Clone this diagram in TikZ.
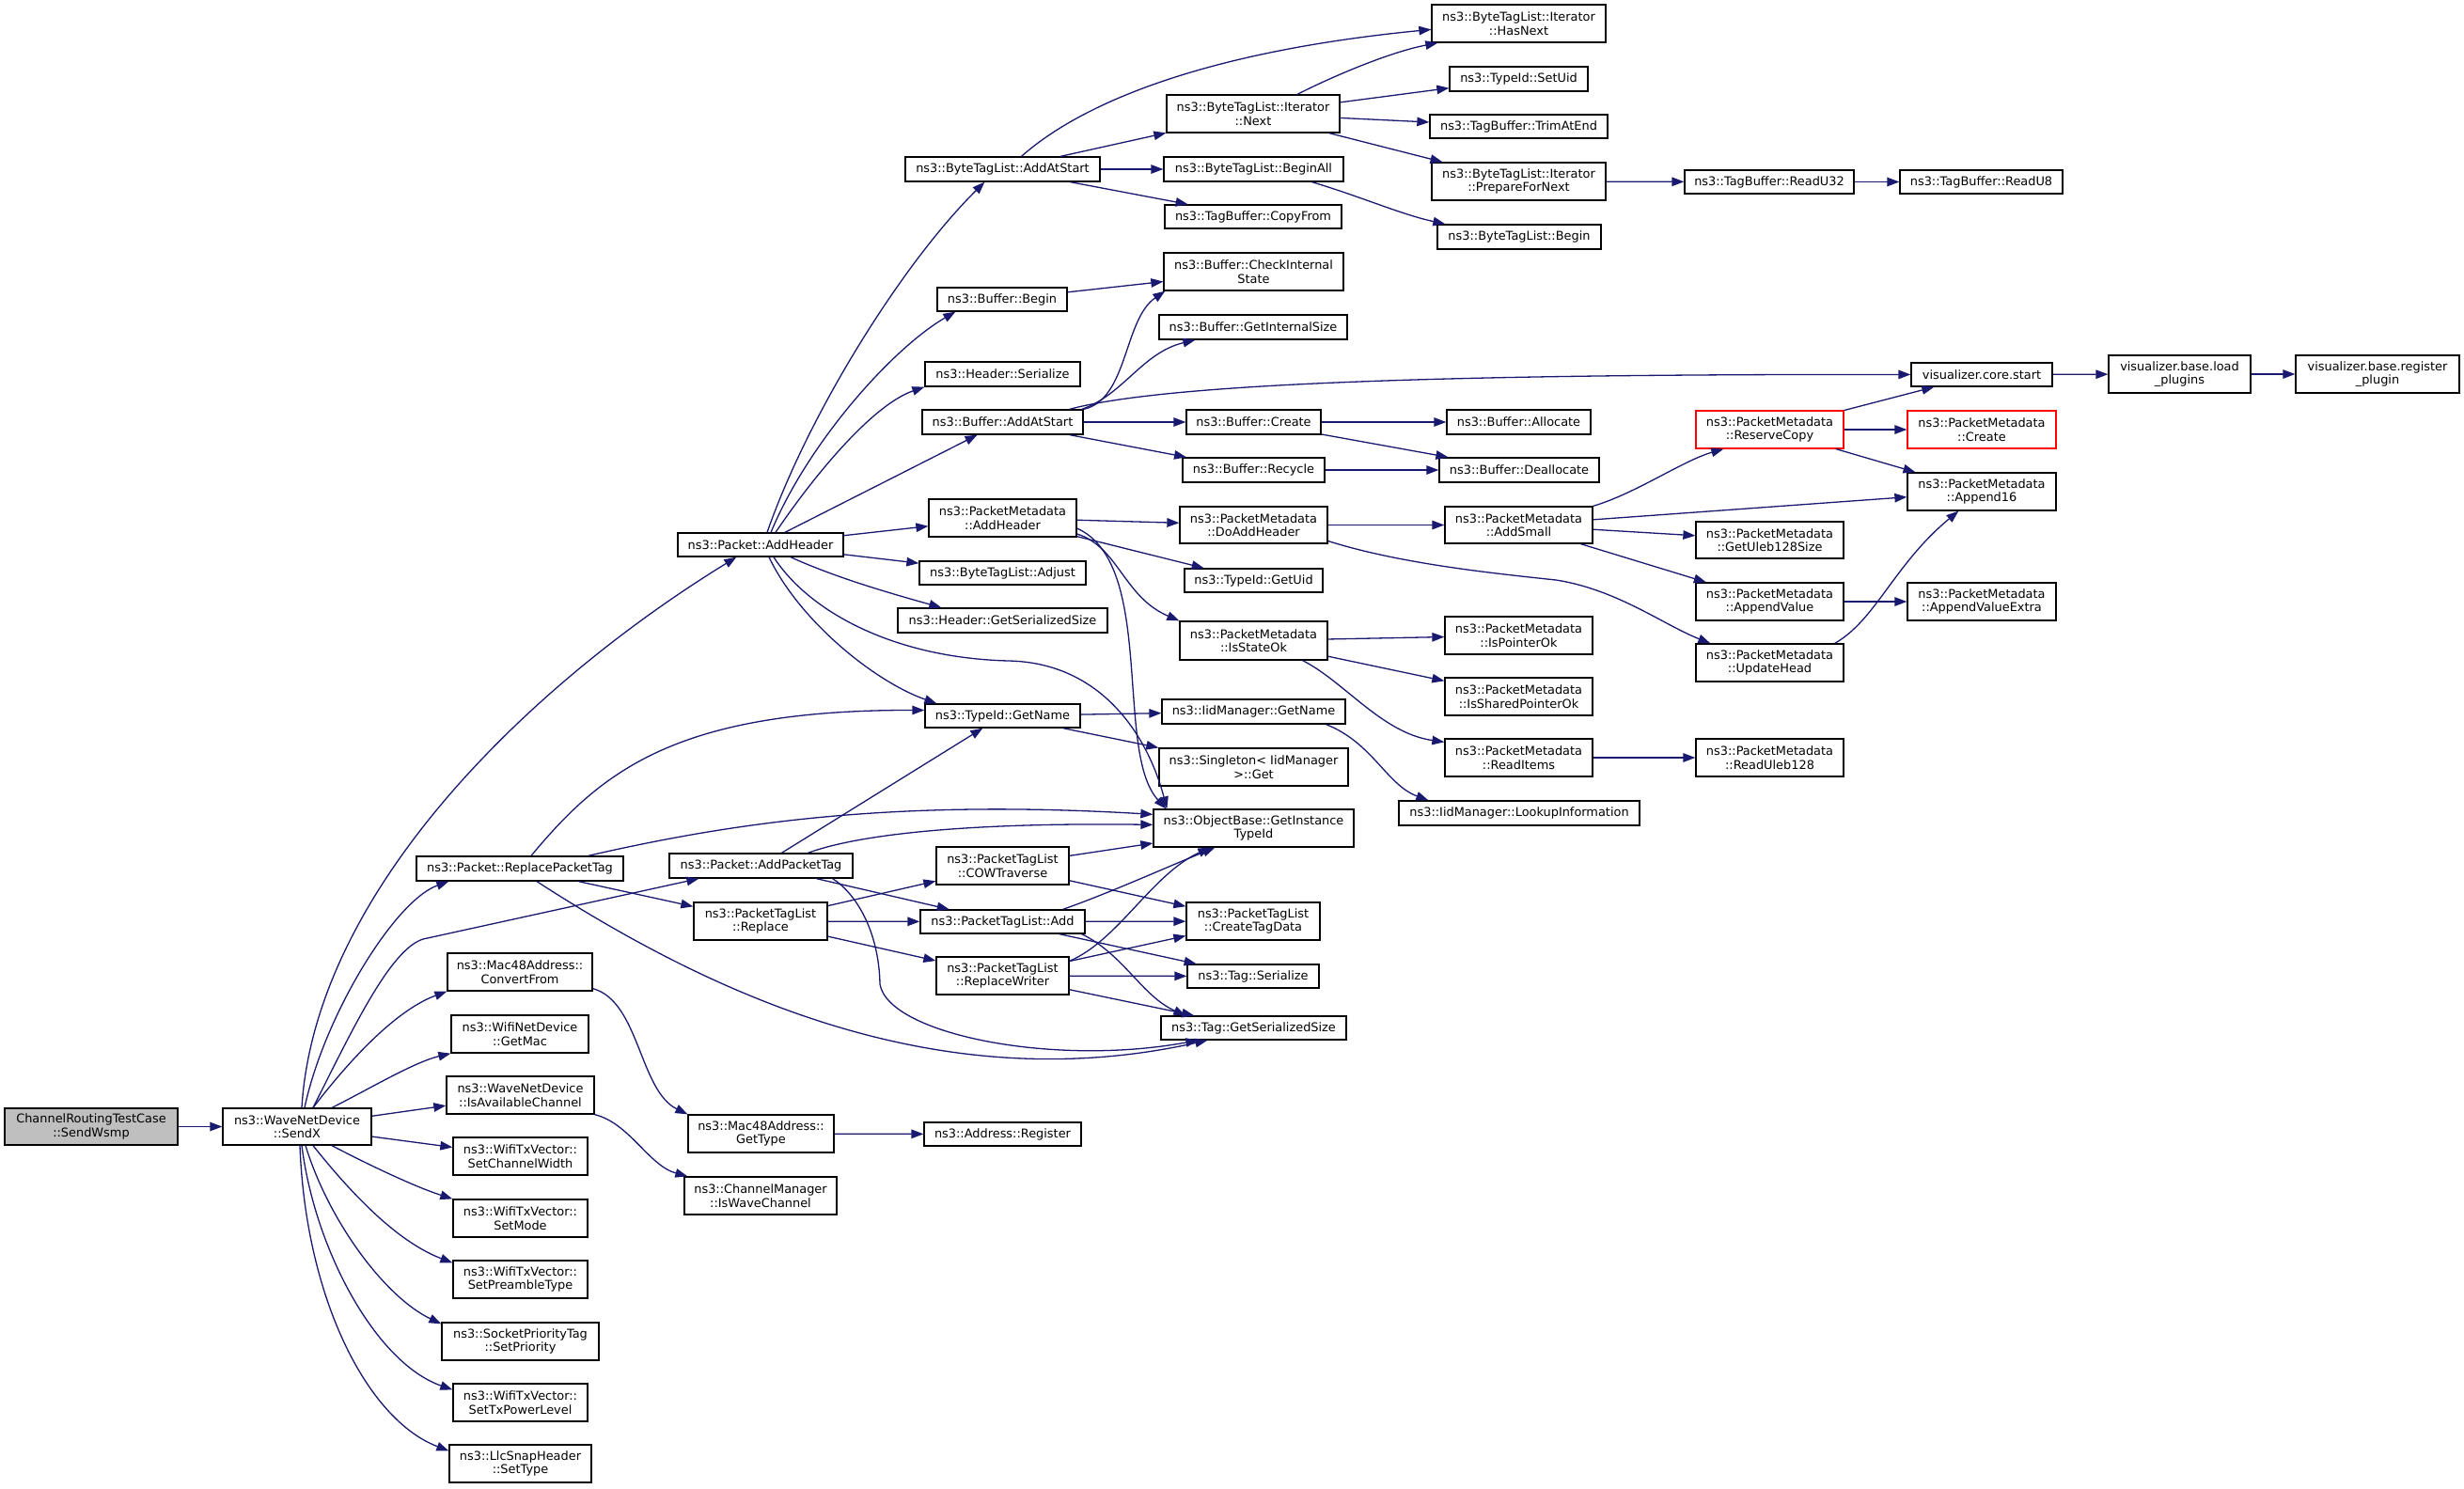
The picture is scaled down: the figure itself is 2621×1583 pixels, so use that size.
\documentclass[tikz,border=0pt]{standalone}
\usepackage{fontspec}
\setmainfont{DejaVu Sans}
\usetikzlibrary{arrows.meta}
\definecolor{edgeblue}{HTML}{191970}
\definecolor{nodegray}{HTML}{BFBFBF}
\definecolor{nodered}{HTML}{FF0000}
\tikzset{
 box/.style={draw=black, line width=1.3pt, fill=white, inner sep=0pt, align=center, font=\fontsize{12.9}{14.5}\selectfont, text=black},
 redbox/.style={draw=nodered},
 graybox/.style={fill=nodegray},
 arr/.style={draw=edgeblue, line width=1.3pt, -{Triangle[length=13pt,width=9.5pt]}},
}
\newcommand\bx[7][]{\node[box,#1,minimum width={(#5-#3)*1pt},minimum height={(#6-#4)*1pt}] (#2) at ({(#3+#5)/2},{(#4+#6)/2}) {#7};}
\begin{document}
\begin{tikzpicture}[x=1pt,y=-1pt]
\useasboundingbox (0,0) rectangle (2621,1583);
\fill[white] (0,0) rectangle (2621,1583);
% nodes
\bx[graybox]{sendwsmp}{5}{1179}{189}{1218}{ChannelRoutingTestCase\\::SendWsmp}
\bx{sendx}{237}{1179}{395}{1218}{ns3::WaveNetDevice\\::SendX}
\bx{replacetag}{443}{911}{663}{937}{ns3::Packet::ReplacePacketTag}
\bx{convertfrom}{476}{1014}{630}{1054}{ns3::Mac48Address::\\ConvertFrom}
\bx{getmac}{480}{1080}{626}{1120}{ns3::WifiNetDevice\\::GetMac}
\bx{isavail}{475}{1145}{632}{1185}{ns3::WaveNetDevice\\::IsAvailableChannel}
\bx{setchw}{482}{1210}{625}{1250}{ns3::WifiTxVector::\\SetChannelWidth}
\bx{setmode}{482}{1276}{625}{1316}{ns3::WifiTxVector::\\SetMode}
\bx{setpre}{482}{1341}{625}{1381}{ns3::WifiTxVector::\\SetPreambleType}
\bx{setprio}{470}{1407}{637}{1447}{ns3::SocketPriorityTag\\::SetPriority}
\bx{settx}{482}{1472}{625}{1512}{ns3::WifiTxVector::\\SetTxPowerLevel}
\bx{settype}{478}{1537}{629}{1577}{ns3::LlcSnapHeader\\::SetType}
\bx{addheader}{721}{567}{897}{592}{ns3::Packet::AddHeader}
\bx{addpackettag}{712}{908}{907}{934}{ns3::Packet::AddPacketTag}
\bx{bt_addatstart}{963}{167}{1170}{193}{ns3::ByteTagList::AddAtStart}
\bx{buf_begin}{997}{306}{1135}{331}{ns3::Buffer::Begin}
\bx{hdr_ser}{984}{385}{1149}{411}{ns3::Header::Serialize}
\bx{buf_addatstart}{981}{436}{1152}{462}{ns3::Buffer::AddAtStart}
\bx{pm_addheader}{988}{531}{1145}{571}{ns3::PacketMetadata\\::AddHeader}
\bx{bt_adjust}{978}{597}{1155}{622}{ns3::ByteTagList::Adjust}
\bx{hdr_gss}{955}{647}{1178}{673}{ns3::Header::GetSerializedSize}
\bx{tid_getname}{984}{749}{1149}{774}{ns3::TypeId::GetName}
\bx{ptl_cow}{996}{901}{1137}{941}{ns3::PacketTagList\\::COWTraverse}
\bx{ptl_replace}{738}{960}{880}{1000}{ns3::PacketTagList\\::Replace}
\bx{ptl_add}{979}{968}{1154}{993}{ns3::PacketTagList::Add}
\bx{ptl_rw}{996}{1018}{1137}{1058}{ns3::PacketTagList\\::ReplaceWriter}
\bx{mac_gettype}{732}{1186}{887}{1226}{ns3::Mac48Address::\\GetType}
\bx{isWave}{728}{1252}{890}{1292}{ns3::ChannelManager\\::IsWaveChannel}
\bx{it_next}{1241}{101}{1425}{141}{ns3::ByteTagList::Iterator\\::Next}
\bx{bt_beginall}{1238}{167}{1429}{193}{ns3::ByteTagList::BeginAll}
\bx{tb_copyfrom}{1239}{218}{1427}{243}{ns3::TagBuffer::CopyFrom}
\bx{buf_check}{1238}{269}{1429}{309}{ns3::Buffer::CheckInternal\\State}
\bx{buf_gis}{1233}{335}{1433}{361}{ns3::Buffer::GetInternalSize}
\bx{buf_create}{1262}{436}{1405}{462}{ns3::Buffer::Create}
\bx{buf_recycle}{1258}{487}{1409}{513}{ns3::Buffer::Recycle}
\bx{pm_doadd}{1255}{539}{1412}{578}{ns3::PacketMetadata\\::DoAddHeader}
\bx{tid_getuid}{1260}{605}{1407}{630}{ns3::TypeId::GetUid}
\bx{pm_isstateok}{1255}{661}{1412}{702}{ns3::PacketMetadata\\::IsStateOk}
\bx{iid_getname}{1236}{744}{1431}{770}{ns3::IidManager::GetName}
\bx{singleton}{1233}{796}{1434}{836}{ns3::Singleton< IidManager\\>::Get}
\bx{getinst}{1227}{861}{1440}{901}{ns3::ObjectBase::GetInstance\\TypeId}
\bx{ptl_ctd}{1262}{960}{1404}{1000}{ns3::PacketTagList\\::CreateTagData}
\bx{tag_ser}{1263}{1026}{1403}{1051}{ns3::Tag::Serialize}
\bx{tag_gss}{1235}{1081}{1432}{1106}{ns3::Tag::GetSerializedSize}
\bx{addr_reg}{983}{1194}{1150}{1219}{ns3::Address::Register}
\bx{it_hasnext}{1523}{5}{1708}{45}{ns3::ByteTagList::Iterator\\::HasNext}
\bx{tid_setuid}{1542}{71}{1689}{97}{ns3::TypeId::SetUid}
\bx{tb_trim}{1521}{122}{1710}{147}{ns3::TagBuffer::TrimAtEnd}
\bx{it_prep}{1523}{173}{1708}{213}{ns3::ByteTagList::Iterator\\::PrepareForNext}
\bx{bt_begin}{1529}{239}{1703}{265}{ns3::ByteTagList::Begin}
\bx{buf_alloc}{1539}{436}{1692}{462}{ns3::Buffer::Allocate}
\bx{buf_dealloc}{1531}{487}{1701}{513}{ns3::Buffer::Deallocate}
\bx{pm_addsmall}{1537}{539}{1694}{578}{ns3::PacketMetadata\\::AddSmall}
\bx{pm_ispointer}{1537}{656}{1694}{696}{ns3::PacketMetadata\\::IsPointerOk}
\bx{pm_isshared}{1537}{721}{1694}{761}{ns3::PacketMetadata\\::IsSharedPointerOk}
\bx{pm_readitems}{1537}{786}{1694}{826}{ns3::PacketMetadata\\::ReadItems}
\bx{iid_lookup}{1488}{852}{1744}{878}{ns3::IidManager::LookupInformation}
\bx{tb_readu32}{1792}{181}{1972}{206}{ns3::TagBuffer::ReadU32}
\bx{tb_readu8}{2021}{181}{2194}{206}{ns3::TagBuffer::ReadU8}
\bx[redbox]{pm_reserve}{1804}{437}{1961}{477}{ns3::PacketMetadata\\::ReserveCopy}
\bx{pm_getuleb}{1804}{555}{1961}{594}{ns3::PacketMetadata\\::GetUleb128Size}
\bx{pm_appendvalue}{1804}{620}{1961}{660}{ns3::PacketMetadata\\::AppendValue}
\bx{pm_updatehead}{1804}{685}{1961}{725}{ns3::PacketMetadata\\::UpdateHead}
\bx{pm_readuleb}{1804}{786}{1961}{826}{ns3::PacketMetadata\\::ReadUleb128}
\bx{viz_start}{2033}{386}{2183}{411}{visualizer.core.start}
\bx[redbox]{pm_create}{2029}{437}{2187}{477}{ns3::PacketMetadata\\::Create}
\bx{pm_append16}{2029}{503}{2187}{543}{ns3::PacketMetadata\\::Append16}
\bx{pm_avextra}{2029}{620}{2187}{660}{ns3::PacketMetadata\\::AppendValueExtra}
\bx{viz_load}{2243}{378}{2394}{418}{visualizer.base.load\\\_plugins}
\bx{viz_reg}{2442}{378}{2616}{418}{visualizer.base.register\\\_plugin}
% edges from SendWsmp / SendX
\draw[arr] (sendwsmp) -- (sendx);
\draw[arr] ([xshift=5pt]sendx.north) .. controls (335,950) and (560,730) .. ([xshift=63pt]addheader.south west);
\draw[arr] ([xshift=8pt]sendx.north) .. controls (345,1080) and (420,958) .. ([xshift=35pt]replacetag.south west);
\draw[arr] ([xshift=17pt]sendx.north) .. controls (375,1095) and (415,1010) .. (450,999) -- ([xshift=32pt]addpackettag.south west);
\draw[arr] ([xshift=17pt]sendx.north) .. controls (370,1130) and (420,1075) .. (convertfrom.south west);
\draw[arr] ([xshift=37pt]sendx.north) .. controls (390,1160) and (440,1130) .. (getmac.south west);
\draw[arr] (sendx) -- (isavail);
\draw[arr] (sendx) -- (setchw);
\draw[arr] ([xshift=37pt]sendx.south) .. controls (390,1238) and (440,1262) .. (setmode.north west);
\draw[arr] ([xshift=17pt]sendx.south) .. controls (370,1265) and (420,1320) .. ([yshift=-3pt]setpre.north west);
\draw[arr] ([xshift=9pt]sendx.south) .. controls (350,1300) and (410,1380) .. ([yshift=-2pt]setprio.north west);
\draw[arr] ([xshift=5pt]sendx.south) .. controls (335,1330) and (400,1450) .. ([yshift=-7pt]settx.north west);
\draw[arr] ([xshift=3pt]sendx.south) .. controls (325,1380) and (390,1510) .. ([yshift=-7pt]settype.north west);
% ReplacePacketTag
\draw[arr] ([xshift=12pt]replacetag.north) .. controls (640,820) and (720,755) .. ([yshift=6pt]tid_getname.west);
\draw[arr] ([xshift=-38pt]replacetag.north east) .. controls (780,875) and (950,850) .. ([yshift=-6pt]getinst.north west);
\draw[arr] (replacetag) -- (ptl_replace);
\draw[arr] ([xshift=18pt]replacetag.south) .. controls (760,1060) and (1000,1170) .. ([xshift=50pt]tag_gss.south west);
% AddPacketTag
\draw[arr] (addpackettag) -- (tid_getname);
\draw[arr] ([xshift=50pt]addpackettag.north) .. controls (920,885) and (1050,875) .. ([yshift=-17pt]getinst.north west);
\draw[arr] (addpackettag) -- (ptl_add);
\draw[arr] ([xshift=-22pt]addpackettag.south east) .. controls (910,950) and (935,990) .. (936,1047) .. controls (945,1100) and (1120,1135) .. ([xshift=40pt]tag_gss.south west);
% PacketTagList
\draw[arr] (ptl_replace) -- (ptl_cow);
\draw[arr] (ptl_replace) -- (ptl_add);
\draw[arr] (ptl_replace) -- (ptl_rw);
\draw[arr] (ptl_cow) -- (getinst);
\draw[arr] (ptl_cow) -- (ptl_ctd);
\draw[arr] ([xshift=-24pt]ptl_add.north east) .. controls (1180,950) and (1235,925) .. ([xshift=66pt]getinst.south west);
\draw[arr] (ptl_add) -- (ptl_ctd);
\draw[arr] (ptl_add) -- (tag_ser);
\draw[arr] ([xshift=-4pt]ptl_add.south east) .. controls (1195,1015) and (1215,1060) .. ([xshift=27pt]tag_gss.north west);
\draw[arr] ([yshift=-5pt]ptl_rw.north east) .. controls (1190,1000) and (1225,930) .. ([xshift=61pt]getinst.south west);
\draw[arr] (ptl_rw) -- (ptl_ctd);
\draw[arr] (ptl_rw) -- (tag_ser);
\draw[arr] (ptl_rw) -- (tag_gss);
% AddHeader
\draw[arr] ([xshift=7pt]addheader.north) .. controls (860,440) and (960,280) .. ([xshift=85pt]bt_addatstart.south west);
\draw[arr] ([xshift=11pt]addheader.north) .. controls (860,470) and (950,370) .. ([xshift=20pt]buf_begin.south west);
\draw[arr] ([xshift=16pt]addheader.north) .. controls (870,500) and (930,430) .. (hdr_ser.south west);
\draw[arr] (addheader) -- (buf_addatstart);
\draw[arr] (addheader) -- (pm_addheader);
\draw[arr] (addheader) -- (bt_adjust);
\draw[arr] ([xshift=32pt]addheader.south) .. controls (890,615) and (950,632) .. ([xshift=47pt]hdr_gss.north west);
\draw[arr] ([xshift=9pt]addheader.south) .. controls (850,660) and (930,725) .. ([xshift=13pt]tid_getname.north west);
\draw[arr] ([xshift=14pt]addheader.south) .. controls (860,650) and (950,700) .. (1073,703) .. controls (1170,705) and (1220,780) .. ([xshift=15pt]getinst.north west);
% ByteTagList
\draw[arr] ([xshift=20pt]bt_addatstart.north) .. controls (1150,110) and (1280,55) .. ([yshift=-27pt]it_hasnext.north west);
\draw[arr] (bt_addatstart) -- (it_next);
\draw[arr] (bt_addatstart) -- (bt_beginall);
\draw[arr] (bt_addatstart) -- (tb_copyfrom);
\draw[arr] ([xshift=47pt]it_next.north) .. controls (1420,80) and (1480,55) .. ([xshift=7pt]it_hasnext.south west);
\draw[arr] (it_next) -- (tid_setuid);
\draw[arr] (it_next) -- (tb_trim);
\draw[arr] (it_next) -- (it_prep);
\draw[arr] ([xshift=-34pt]bt_beginall.south east) .. controls (1450,210) and (1490,228) .. ([xshift=9pt]bt_begin.north west);
\draw[arr] (it_prep) -- (tb_readu32);
\draw[arr] (tb_readu32) -- (tb_readu8);
% Buffer
\draw[arr] (buf_begin) -- (buf_check);
\draw[arr] (buf_addatstart.north east) .. controls (1200,425) and (1195,340) .. ([xshift=2pt]buf_check.south west);
\draw[arr] ([xshift=-2pt]buf_addatstart.north east) .. controls (1195,420) and (1215,375) .. ([xshift=39pt]buf_gis.south west);
\draw[arr] ([xshift=-15pt]buf_addatstart.north east) .. controls (1250,405) and (1600,398) .. (viz_start);
\draw[arr] (buf_addatstart) -- (buf_create);
\draw[arr] (buf_addatstart) -- (buf_recycle);
\draw[arr] (buf_create) -- (buf_alloc);
\draw[arr] (buf_create) -- (buf_dealloc);
\draw[arr] (buf_recycle) -- (buf_dealloc);
\draw[arr] (viz_start) -- (viz_load);
\draw[arr] (viz_load) -- (viz_reg);
% PacketMetadata
\draw[arr] (pm_addheader) -- (pm_doadd);
\draw[arr] (pm_addheader) -- (tid_getuid);
\draw[arr] ([yshift=-17pt]pm_addheader.east) .. controls (1190,582) and (1195,635) .. (pm_isstateok.north west);
\draw[arr] ([yshift=-11pt]pm_addheader.east) .. controls (1230,600) and (1185,800) .. ([xshift=14pt]getinst.north west);
\draw[arr] (pm_doadd) -- (pm_addsmall);
\draw[arr] ([yshift=-17pt]pm_doadd.east) .. controls (1490,600) and (1590,610) .. (1655,617) .. controls (1720,627) and (1770,665) .. ([xshift=16pt]pm_updatehead.north west);
\draw[arr] (pm_addsmall.north east) .. controls (1740,525) and (1790,490) .. ([xshift=30pt]pm_reserve.south west);
\draw[arr] (pm_addsmall) -- (pm_append16);
\draw[arr] (pm_addsmall) -- (pm_getuleb);
\draw[arr] (pm_addsmall) -- (pm_appendvalue);
\draw[arr] (pm_reserve) -- (viz_start);
\draw[arr] (pm_reserve) -- (pm_create);
\draw[arr] (pm_reserve) -- (pm_append16);
\draw[arr] (pm_appendvalue) -- (pm_avextra);
\draw[arr] ([xshift=-10pt]pm_updatehead.north east) .. controls (1995,660) and (2015,600) .. ([xshift=55pt]pm_append16.south west);
\draw[arr] (pm_isstateok) -- (pm_ispointer);
\draw[arr] (pm_isstateok) -- (pm_isshared);
\draw[arr] ([xshift=-27pt]pm_isstateok.south east) .. controls (1430,725) and (1470,780) .. ([yshift=-4pt]pm_readitems.north west);
\draw[arr] (pm_readitems) -- (pm_readuleb);
% TypeId / IidManager
\draw[arr] (tid_getname) -- (iid_getname);
\draw[arr] (tid_getname) -- (singleton);
\draw[arr] ([xshift=-21pt]iid_getname.south east) .. controls (1460,790) and (1475,835) .. ([xshift=32pt]iid_lookup.north west);
% Mac48Address / ChannelManager
\draw[arr] ([yshift=3pt]convertfrom.south east) .. controls (680,1065) and (680,1160) .. (mac_gettype.north west);
\draw[arr] (mac_gettype) -- (addr_reg);
\draw[arr] (isavail.south east) .. controls (670,1195) and (690,1240) .. ([xshift=4pt]isWave.north west);
\end{tikzpicture}
\end{document}
